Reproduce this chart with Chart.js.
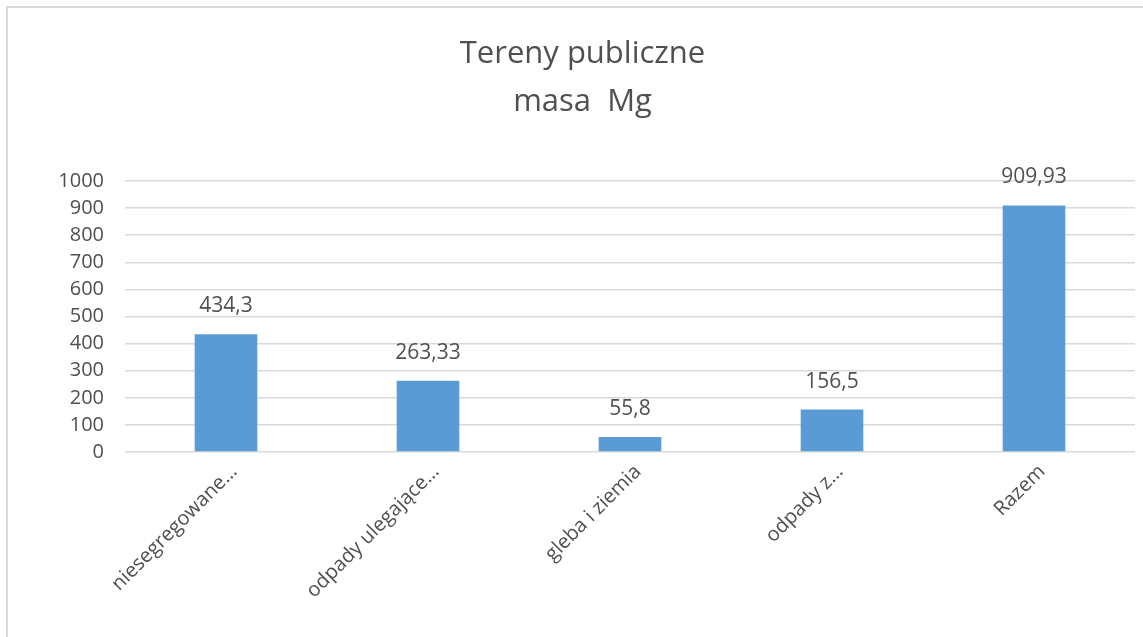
<!DOCTYPE html>
<html>
<head>
<meta charset="utf-8">
<script src="https://cdn.jsdelivr.net/npm/chart.js@4/dist/chart.umd.min.js"></script>
<style>
  html, body { margin: 0; padding: 0; background: #fff; }
  #wrap { position: relative; width: 1143px; height: 637px; }
  #frame {
    position: absolute; left: 6px; top: 6px; right: -10px; bottom: -10px;
    border-top: 2px solid #d9d9d9; border-left: 2px solid #d9d9d9;
    pointer-events: none;
  }
</style>
</head>
<body>
<div id="wrap">
  <canvas id="chart" width="1143" height="637"></canvas>
  <div id="frame"></div>
</div>
<script>
// dane wykresu
const categories = ['niesegregowane…', 'odpady ulegające…', 'gleba i ziemia', 'odpady z…', 'Razem'];
const masses = [434.3, 263.33, 55.8, 156.5, 909.93];
const titleLines = ['Tereny publiczne', 'masa  Mg'];
const yTicks = [0, 100, 200, 300, 400, 500, 600, 700, 800, 900, 1000];

const FONT = "'Open Sans', 'Noto Sans', sans-serif";
const TEXT = '#505050';
const GRID = '#d9d9d9';

// etykiety wartości nad słupkami (bez pluginu datalabels)
const valueLabels = {
    id: 'valueLabels',
    afterDatasetsDraw(chart) {
        const ctx = chart.ctx;
        const meta = chart.getDatasetMeta(0);
        ctx.save();
        ctx.font = '21px ' + FONT;
        ctx.fillStyle = TEXT;
        ctx.textAlign = 'center';
        ctx.textBaseline = 'middle';
        meta.data.forEach((bar, i) => {
            const txt = String(masses[i]).replace('.', ',');
            ctx.fillText(txt, bar.x, bar.y - 28);
        });
        ctx.restore();
    }
};

new Chart(document.getElementById('chart'), {
    type: 'bar',
    data: {
        labels: categories,
        datasets: [{
            data: masses,
            backgroundColor: '#5b9bd5',
            barPercentage: 0.31,
            categoryPercentage: 1
        }]
    },
    options: {
        responsive: false,
        animation: false,
        // lewy padding przesuwa tytuł na środek jak w oryginale
        layout: { padding: { top: 30, right: 8, left: 30, bottom: 0 } },
        plugins: {
            legend: { display: false },
            tooltip: { enabled: false },
            title: {
                display: true,
                text: titleLines,
                color: TEXT,
                font: { family: FONT, size: 31, weight: 'normal', lineHeight: 48 / 31 },
                padding: { top: 0, bottom: 55 }
            }
        },
        scales: {
            x: {
                grid: { display: false },
                border: { display: false },
                ticks: {
                    color: TEXT,
                    font: { family: FONT, size: 20 },
                    minRotation: 45,
                    maxRotation: 45,
                    autoSkip: false,
                    padding: 0,
                    labelOffset: 8
                },
                afterFit(scale) { scale.height = 185; }
            },
            y: {
                min: 0,
                max: 1000,
                afterBuildTicks(scale) { scale.ticks = yTicks.map(v => ({ value: v })); },
                grid: { color: GRID, lineWidth: 1.5, drawTicks: false },
                border: { display: false },
                ticks: {
                    color: TEXT,
                    font: { family: FONT, size: 20 },
                    padding: 21,
                    callback: v => String(v)
                },
                afterFit(scale) { scale.width = 95; }
            }
        }
    },
    plugins: [valueLabels]
});
</script>
</body>
</html>
